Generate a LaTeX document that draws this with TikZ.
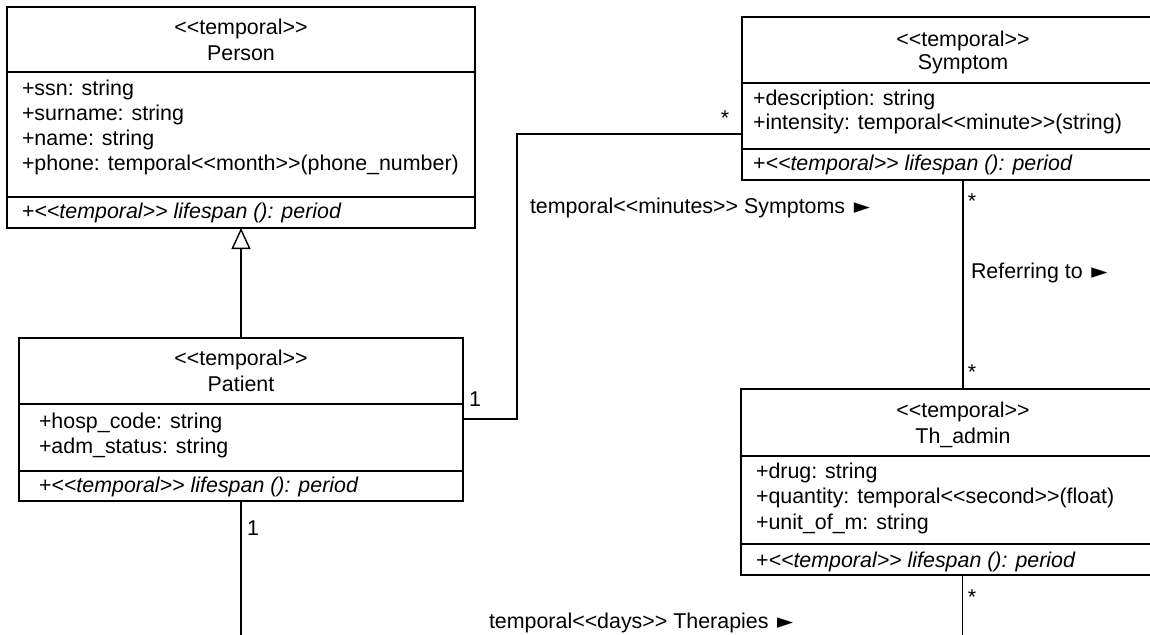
\documentclass[tikz,border=0pt]{standalone}
\usepackage{fontspec}
\setmainfont{Liberation Sans}
\newfontfamily\symfont{DejaVu Sans}
\usetikzlibrary{arrows.meta}
\newcommand\LL{<{}<}
\newcommand\GG{>{}>}
\newcommand\tri{\hspace{0.4em}{\symfont\fontsize{21}{21}\selectfont ►}}
\begin{document}
\begin{tikzpicture}[x=1pt,y=-1pt,
  every node/.style={inner sep=0pt, outer sep=0pt, font=\fontsize{21.4}{25}\selectfont},
  umlbox/.style={draw, line width=1.6pt, rectangle, anchor=north west},
  sepline/.style={line width=1.6pt},
  conn/.style={line width=1.4pt},
  lbl/.style={anchor=base west},
  ctr/.style={anchor=base},
  mult/.style={anchor=base}]
\useasboundingbox (0,0) rectangle (1150,634);
\clip (0,0) rectangle (1150,634);

% ---------- boxes ----------
\node[umlbox, minimum width=468pt, minimum height=221pt] (person) at (7,7) {};
\node[umlbox, minimum width=444pt, minimum height=163pt] (patient) at (19,338) {};
\node[umlbox, minimum width=442pt, minimum height=163pt] (symptom) at (742,17) {};
\node[umlbox, minimum width=443pt, minimum height=186pt] (thadmin) at (741,389) {};

% ---------- compartment separators ----------
\draw[sepline] (person.west |- 0,72) -- (person.east |- 0,72);
\draw[sepline] (person.west |- 0,197) -- (person.east |- 0,197);
\draw[sepline] (patient.west |- 0,404) -- (patient.east |- 0,404);
\draw[sepline] (patient.west |- 0,471) -- (patient.east |- 0,471);
\draw[sepline] (symptom.west |- 0,83) -- (symptom.east |- 0,83);
\draw[sepline] (symptom.west |- 0,149) -- (symptom.east |- 0,149);
\draw[sepline] (thadmin.west |- 0,456) -- (thadmin.east |- 0,456);
\draw[sepline] (thadmin.west |- 0,544) -- (thadmin.east |- 0,544);

% ---------- Person ----------
\node[ctr] (p1) at (241,35) {\LL temporal\GG};
\node[ctr] (p2) at (241,60) {Person};
\node[lbl] (p3) at (22,95) {+ssn: string};
\node[lbl] (p4) at (22,120) {+surname: string};
\node[lbl] (p5) at (22,145) {+name: string};
\node[lbl] (p6) at (22,170) {+phone: temporal\LL month\GG(phone\_number)};
\node[lbl] (p7) at (22,218) {+\textit{\LL temporal\GG{} lifespan (): period}};

% ---------- Patient ----------
\node[ctr] (q1) at (241,365) {\LL temporal\GG};
\node[ctr] (q2) at (241,391) {Patient};
\node[lbl] (q3) at (39,428) {+hosp\_code: string};
\node[lbl] (q4) at (39,453) {+adm\_status: string};
\node[lbl] (q5) at (39,492) {+\textit{\LL temporal\GG{} lifespan (): period}};

% ---------- Symptom ----------
\node[ctr] (s1) at (963,47) {\LL temporal\GG};
\node[ctr] (s2) at (963,70) {Symptom};
\node[lbl] (s3) at (753,105) {+description: string};
\node[lbl] (s4) at (753,129) {+intensity: temporal\LL minute\GG(string)};
\node[lbl] (s5) at (753,170) {+\textit{\LL temporal\GG{} lifespan (): period}};

% ---------- Th_admin ----------
\node[ctr] (t1) at (963,417) {\LL temporal\GG};
\node[ctr] (t2) at (963,443) {Th\_admin};
\node[lbl] (t3) at (756,478) {+drug: string};
\node[lbl] (t4) at (756,503) {+quantity: temporal\LL second\GG(float)};
\node[lbl] (t5) at (756,529) {+unit\_of\_m: string};
\node[lbl] (t6) at (756,567) {+\textit{\LL temporal\GG{} lifespan (): period}};

% ---------- connectors ----------
\coordinate (pbot) at (241,640);
\coordinate (tbot) at (962.5,640);
\coordinate (bend) at (517,134);
\draw[conn, -{Triangle[open, width=19pt, length=21pt]}] (patient.north) -- (person.south);
\draw[conn] (patient.south) -- (pbot);
\draw[conn] (patient.east |- 0,419) -| (bend) -- (symptom.west |- bend);
\draw[conn] (symptom.south) -- (symptom.south |- thadmin.north);
\draw[conn] (thadmin.south) -- (tbot);

% ---------- multiplicities ----------
\node[mult] (m1) at (475,406) {1};
\node[mult] (m2) at (253,535) {1};
\node[mult] (m3) at (725,125) {*};
\node[mult] (m4) at (972,208) {*};
\node[mult] (m5) at (972,379) {*};
\node[mult] (m6) at (972,604) {*};

% ---------- association labels ----------
\node[lbl] (a1) at (530,213) {temporal\LL minutes\GG{} Symptoms\tri};
\node[lbl] (a2) at (971,278) {Referring to\tri};
\node[lbl] (a3) at (489,628) {temporal\LL days\GG{} Therapies\tri};
\end{tikzpicture}
\end{document}
